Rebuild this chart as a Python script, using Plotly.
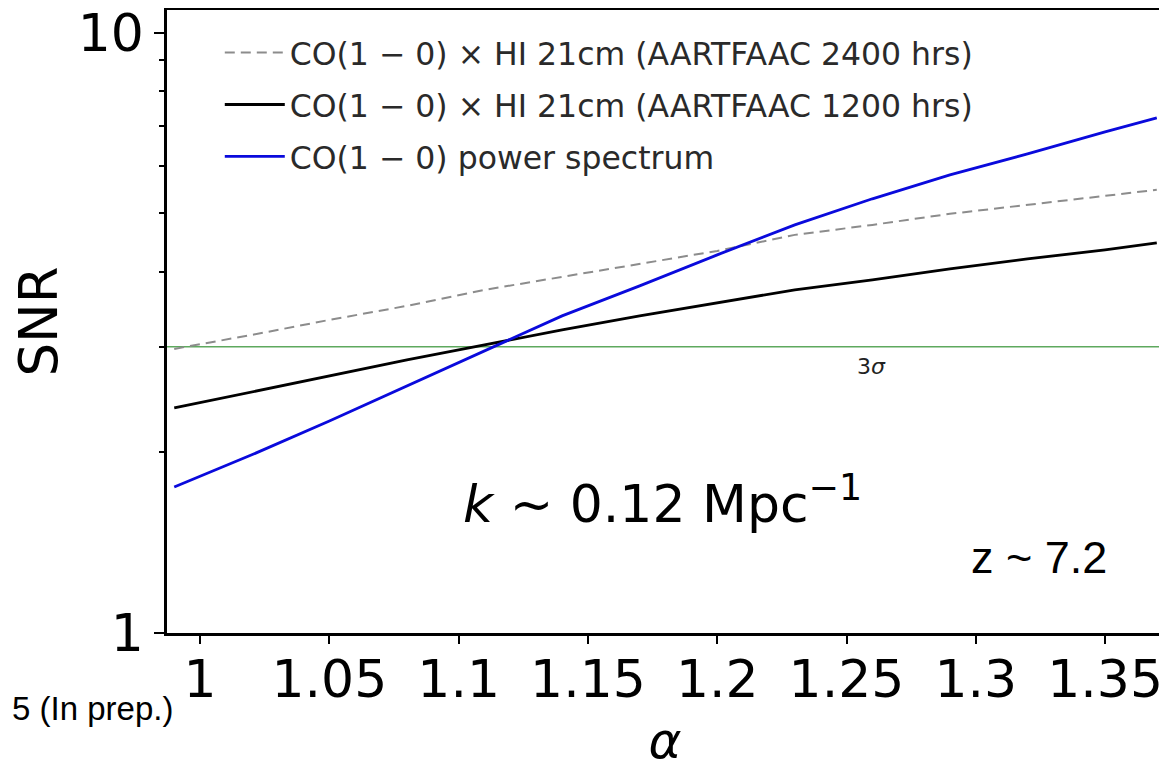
import plotly.graph_objects as go

alpha = [0.99, 1.02, 1.05, 1.08, 1.11, 1.14, 1.17, 1.20, 1.23, 1.26, 1.29, 1.32, 1.35, 1.37]
snr_2400 = [2.974, 3.138, 3.324, 3.508, 3.73, 3.92, 4.121, 4.331, 4.606, 4.786, 4.993, 5.169, 5.35, 5.475]
snr_1200 = [2.371, 2.521, 2.682, 2.851, 3.02, 3.199, 3.376, 3.548, 3.73, 3.876, 4.043, 4.201, 4.348, 4.467]
snr_auto = [1.751, 1.981, 2.256, 2.58, 2.951, 3.376, 3.788, 4.266, 4.786, 5.29, 5.80, 6.285, 6.84, 7.215]
threshold = 3.0

names = ["CO(1 − 0) × HI 21cm (AARTFAAC 2400 hrs)",
         "CO(1 − 0) × HI 21cm (AARTFAAC 1200 hrs)",
         "CO(1 − 0) power spectrum"]
x_ticks = [1, 1.05, 1.1, 1.15, 1.2, 1.25, 1.3, 1.35]
x_tick_text = ["1", "1.05", "1.1", "1.15", "1.2", "1.25", "1.3", "1.35"]
y_ticks = [1, 10]
y_minor = [2, 3, 4, 5, 6, 7, 8, 9]

FONT = "DejaVu Sans"
X_RANGE = [0.9872, 1.3724]

# page body has an 8px default margin; margins below compensate for it
ML, MT, MR, MB = 159, 2, 12, 139
PW = 1167 - ML - MR
PH = 764 - MT - MB

fig = go.Figure()
fig.add_trace(go.Scatter(x=X_RANGE, y=[threshold, threshold], mode="lines",
                         line=dict(color="rgba(40,140,40,0.75)", width=1.5),
                         showlegend=False, hoverinfo="skip"))
fig.add_trace(go.Scatter(x=alpha, y=snr_2400, mode="lines", name=names[0], legendgroup="a",
                         line=dict(color="#8c8c8c", width=2, dash="10px,6px")))
fig.add_trace(go.Scatter(x=alpha, y=snr_1200, mode="lines", name=names[1], legendgroup="b",
                         line=dict(color="black", width=2.8)))
fig.add_trace(go.Scatter(x=alpha, y=snr_auto, mode="lines", name=names[2], legendgroup="c",
                         line=dict(color="#0a0adc", width=2.8)))

fig.update_layout(
    width=1167, height=764,
    margin=dict(l=ML, r=MR, t=MT, b=MB, autoexpand=False),
    paper_bgcolor="white", plot_bgcolor="white",
    font=dict(family=FONT, color="black"),
    showlegend=True,
    legend=dict(x=0.053, y=0.975, xanchor="left", yanchor="top",
                bgcolor="rgba(255,255,255,0)", borderwidth=0,
                font=dict(size=31.5, color="#2a2a2a", family=FONT),
                tracegroupgap=8, itemwidth=60, traceorder="grouped"),
)
fig.update_xaxes(
    range=X_RANGE, tickmode="array", tickvals=x_ticks, ticktext=x_tick_text,
    tickfont=dict(size=52, family=FONT), ticks="outside", ticklen=8, tickwidth=2,
    ticklabelstandoff=-9, ticklabeloverflow="allow",
    tickcolor="black", showline=True, linewidth=2.5, linecolor="black", mirror=True,
    showgrid=False, zeroline=False,
    title=dict(text="<i>α</i>", font=dict(size=50, family=FONT), standoff=15),
)
fig.update_yaxes(
    type="log", range=[0, 1.038], tickmode="array", tickvals=y_ticks, ticktext=["1", "10"],
    tickfont=dict(size=52, family=FONT), ticks="outside", ticklen=10, tickwidth=2,
    ticklabeloverflow="allow",
    tickcolor="black", showline=True, linewidth=2.5, linecolor="black", mirror=True,
    showgrid=False, zeroline=False,
    minor=dict(tickmode="array", tickvals=y_minor, ticks="outside", ticklen=5,
               tickwidth=2, tickcolor="black", showgrid=False),
    title=dict(text="SNR", font=dict(size=53, family=FONT), standoff=16),
)

fig.add_annotation(x=1.2597, y=0.444, xref="x", yref="y", text="3<i>σ</i>", showarrow=False,
                   font=dict(size=22, family=FONT, color="#222"))
fig.add_annotation(x=1.1787, y=0.222, xref="x", yref="y",
                   text="<i>k</i> ~ 0.12 Mpc<sup>−1</sup>", showarrow=False,
                   font=dict(size=52, family=FONT, color="black"))
fig.add_annotation(x=1.3244, y=0.125, xref="x", yref="y", text="z ~ 7.2", showarrow=False,
                   font=dict(size=45, family="Liberation Sans", color="black"))
fig.add_annotation(x=(167 - ML) / PW, y=(PH + MT - 700) / PH, xref="paper", yref="paper",
                   text="5 (In prep.)", showarrow=False, xanchor="right", yanchor="middle",
                   font=dict(size=33, family="Liberation Sans", color="black"))

fig.write_html("out.html")
